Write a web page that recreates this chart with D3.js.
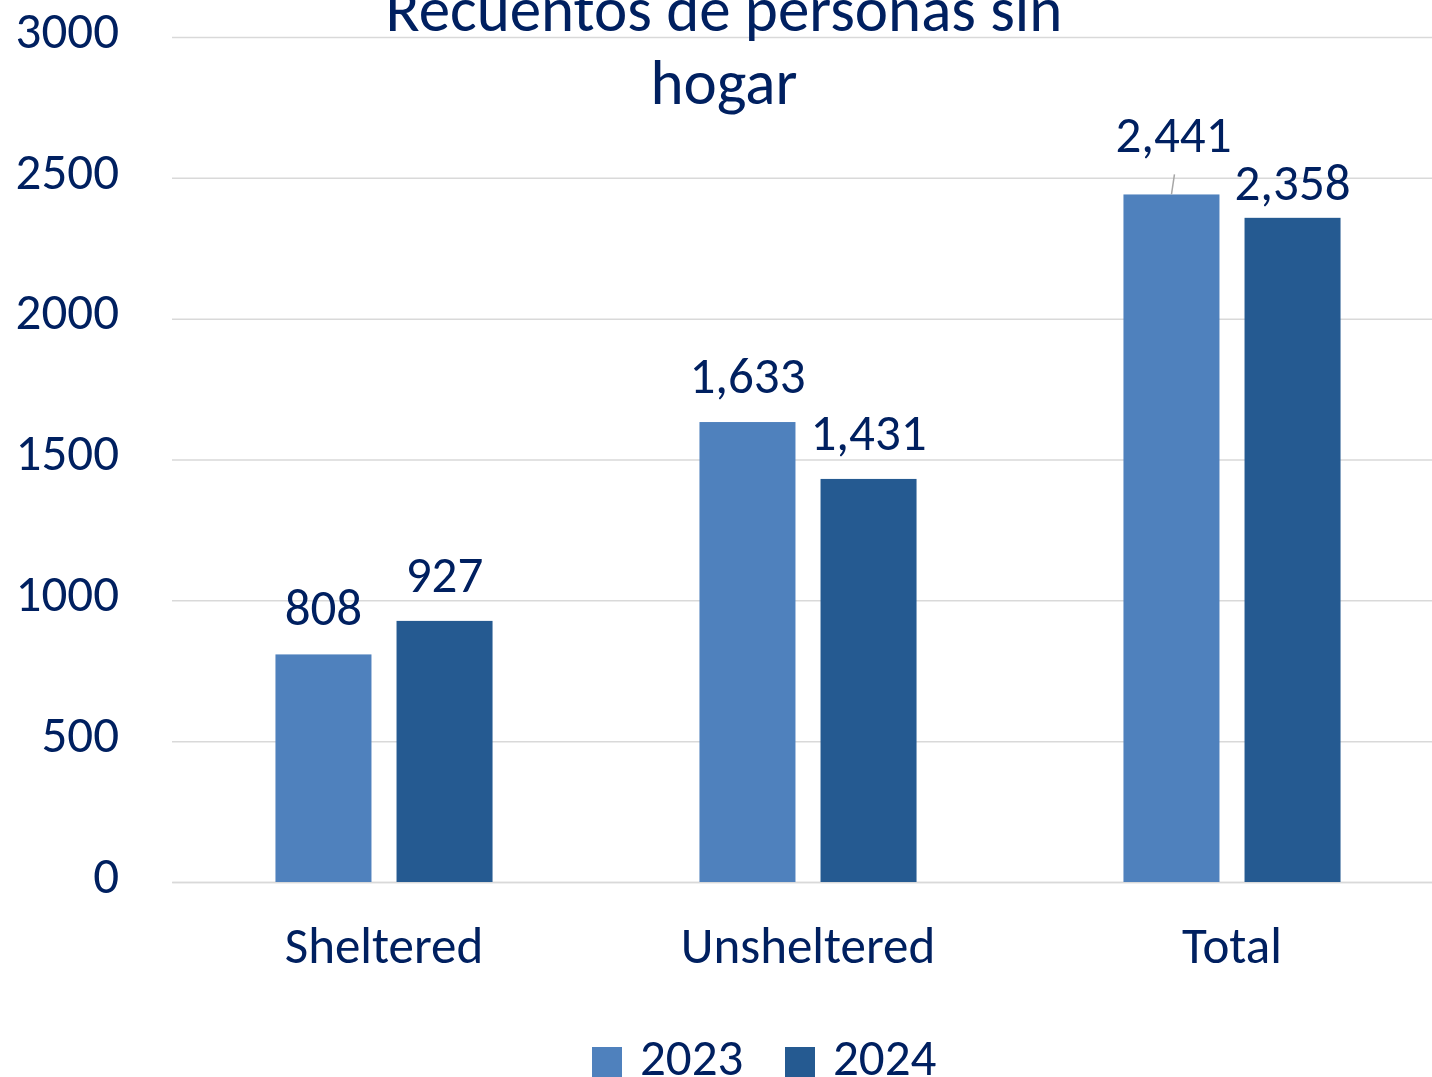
<!DOCTYPE html>
<html>
<head>
<meta charset="utf-8">
<script src="https://cdn.jsdelivr.net/npm/d3@7"></script>
<style>
  html, body { margin: 0; padding: 0; background: #fff; }
  svg { display: block; font-family: Carlito, Calibri, Lato, sans-serif; }
  svg text { fill: #002060; }
</style>
</head>
<body>
<svg></svg>
<script>
// chart values
const categories = ['Sheltered', 'Unsheltered', 'Total'];
const seriesNames = ['2023', '2024'];
const values2023 = [808, 1633, 2441];
const values2024 = [927, 1431, 2358];
const yTicks = [0, 500, 1000, 1500, 2000, 2500, 3000];
const titleLines = ['Recuentos de personas sin', 'hogar'];

const colors = { '2023': '#4f81bd', '2024': '#255a91' };

// labels Excel nudged around the Total pair (positive = up, gets a leader line)
const labelLift = { 'Total-2023': 13, 'Total-2024': -11 };

const width = 1432;
const height = 1077;
const fontSize = 51;

const svg = d3.select('svg')
  .attr('width', width)
  .attr('height', height)
  .attr('viewBox', `0 0 ${width} ${height}`);

// rows for the grouped bars
const rows = categories.map((c, i) => ({
  category: c,
  values: [
    { series: '2023', value: values2023[i] },
    { series: '2024', value: values2024[i] }
  ]
}));

// scales
const scaleY = d3.scaleLinear()
  .domain([0, 3000])
  .range([882, 37]);

const scaleX0 = d3.scaleBand()
  .domain(categories)
  .range([172, 1444])
  .paddingInner(0.488)
  .paddingOuter(0.244);

const scaleX1 = d3.scaleBand()
  .domain(seriesNames)
  .range([0, scaleX0.bandwidth()])
  .paddingInner(0.207);

// Y axis with gridlines
const axisY = d3.axisLeft(scaleY)
  .tickValues(yTicks)
  .tickSizeInner(-(1432 - 172))
  .tickSizeOuter(0)
  .tickPadding(53)
  .tickFormat(d3.format('d'));

const axisYGroup = svg.append('g')
  .attr('class', 'y-axis')
  .attr('transform', 'translate(172, 0)')
  .call(axisY)
  .attr('font-family', null)
  .attr('font-size', null);

axisYGroup.select('.domain').remove();
axisYGroup.selectAll('.tick line')
  .attr('stroke', '#d9d9d9')
  .attr('stroke-width', 1.5);
axisYGroup.selectAll('.tick text')
  .attr('font-size', fontSize)
  .attr('dy', '0.2em');

// X axis
const axisX = d3.axisBottom(scaleX0)
  .tickSize(0)
  .tickPadding(0);

const axisXGroup = svg.append('g')
  .attr('class', 'x-axis')
  .attr('transform', 'translate(0, 882)')
  .call(axisX)
  .attr('font-family', null)
  .attr('font-size', null);

axisXGroup.select('.domain')
  .attr('stroke', '#d9d9d9')
  .attr('stroke-width', 1.5);
axisXGroup.selectAll('.tick text')
  .attr('font-size', fontSize)
  .attr('dy', null)
  .attr('y', 81);

// bars
const groups = svg.selectAll('g.group')
  .data(rows)
  .enter()
  .append('g')
  .attr('class', 'group')
  .attr('transform', d => `translate(${scaleX0(d.category)}, 0)`);

groups.selectAll('rect')
  .data(d => d.values)
  .enter()
  .append('rect')
  .attr('x', d => scaleX1(d.series))
  .attr('y', d => scaleY(d.value))
  .attr('width', scaleX1.bandwidth())
  .attr('height', d => scaleY(0) - scaleY(d.value))
  .attr('fill', d => colors[d.series]);

// data labels
const labels = groups.selectAll('g.label')
  .data(d => d.values.map(v => ({ ...v, category: d.category })))
  .enter()
  .append('g')
  .attr('class', 'label');

labels.each(function (d) {
  const g = d3.select(this);
  const cx = scaleX1(d.series) + scaleX1.bandwidth() / 2;
  const top = scaleY(d.value);
  const lift = labelLift[`${d.category}-${d.series}`] || 0;
  const baseline = top - 29 - lift;

  // leader line back to the bar when the label was pushed up
  if (lift > 0) {
    g.append('line')
      .attr('x1', cx + 3)
      .attr('y1', baseline + 22)
      .attr('x2', cx)
      .attr('y2', top)
      .attr('stroke', '#a6a6a6')
      .attr('stroke-width', 1.5);
  }

  g.append('text')
    .attr('x', cx + (lift > 0 ? 2 : 0))
    .attr('y', baseline)
    .attr('text-anchor', 'middle')
    .attr('font-size', fontSize)
    .text(d3.format(',')(d.value));
});

// title
svg.append('text')
  .attr('class', 'title')
  .attr('text-anchor', 'middle')
  .attr('font-size', 63)
  .selectAll('tspan')
  .data(titleLines)
  .enter()
  .append('tspan')
  .attr('x', 724)
  .attr('y', (d, i) => 31 + i * 73)
  .text(d => d);

// legend
const legend = svg.append('g')
  .attr('class', 'legend');

const legendX = [592, 785];

const legendItems = legend.selectAll('g')
  .data(seriesNames)
  .enter()
  .append('g')
  .attr('transform', (d, i) => `translate(${legendX[i]}, 1047)`);

legendItems.append('rect')
  .attr('width', 30)
  .attr('height', 30)
  .attr('fill', d => colors[d]);

legendItems.append('text')
  .attr('x', 48)
  .attr('y', 28)
  .attr('font-size', fontSize)
  .text(d => d);
</script>
</body>
</html>
